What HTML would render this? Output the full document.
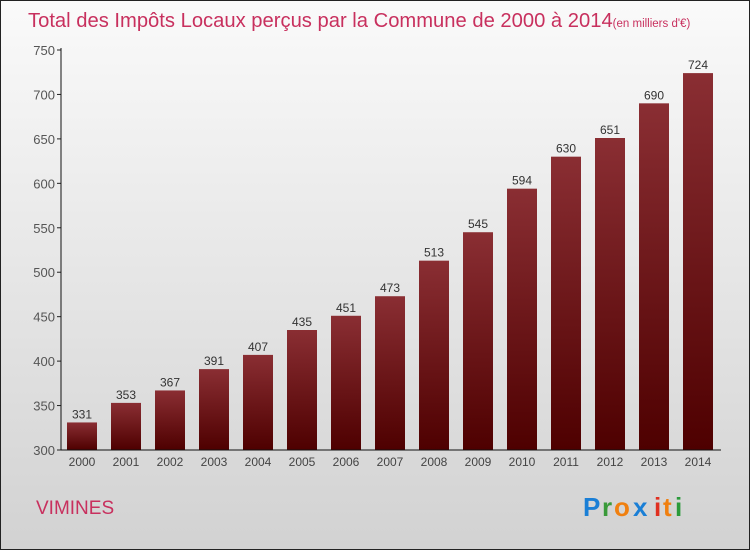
<!DOCTYPE html>
<html><head><meta charset="utf-8"><style>
html,body{margin:0;padding:0;width:750px;height:550px;overflow:hidden}
body{font-family:"Liberation Sans",sans-serif}
#frame{position:absolute;left:0;top:0;width:748px;height:548px;border:1px solid #222;background:linear-gradient(#fafafa,#d2d2d2)}
</style></head><body>
<div id="frame"></div>
<svg id="c" width="750" height="550" style="position:absolute;left:0;top:0">
<defs><linearGradient id="bg" x1="0" y1="0" x2="0" y2="1"><stop offset="0" stop-color="#8a2e33"/><stop offset="1" stop-color="#4e0000"/></linearGradient></defs>
<text x="28" y="27" font-size="20.2" fill="#c8305e">Total des Impôts Locaux perçus par la Commune de 2000 à 2014<tspan font-size="11.5">(en milliers d'€)</tspan></text>
<text x="36" y="514" font-size="19" fill="#c8305e">VIMINES</text>
<g font-size="26" font-weight="bold">
<text x="583" y="516" fill="#1a7fd6">P</text><text x="602" y="516" fill="#3a9a3a">r</text><text x="614" y="516" fill="#f08010">o</text><text x="633" y="516" fill="#1a7fd6">x</text><text x="654" y="516" fill="#e03020">i</text><text x="663" y="516" fill="#f08010">t</text><text x="675" y="516" fill="#2a9a3a">i</text>
</g>
<g id="plot"></g>
</svg>
<script>
const years=["2000","2001","2002","2003","2004","2005","2006","2007","2008","2009","2010","2011","2012","2013","2014"];
const values=[331,353,367,391,407,435,451,473,513,545,594,630,651,690,724];
const ticks=[300,350,400,450,500,550,600,650,700,750];
const y=v=>450-(v-300)*400/450;
const x=i=>82+i*44;
const g=document.getElementById('plot');
const NS='http://www.w3.org/2000/svg';
function mk(t,a){const e=document.createElementNS(NS,t);for(const k in a)e.setAttribute(k,a[k]);g.appendChild(e);return e;}
ticks.forEach(t=>{
 const l=mk('line',{x1:57,x2:61,y1:y(t),y2:y(t),stroke:'#222'});
 
 
 const tx=mk('text',{x:55,y:y(t)+5,'text-anchor':'end','font-size':13,fill:'#555'});tx.textContent=t;
 
 
});
values.forEach((v,i)=>{
 const r=mk('rect',{x:x(i)-15,y:y(v),width:30,height:450-y(v),fill:'url(#bg)'});
 
 
 const t=mk('text',{x:x(i),y:y(v)-4,'text-anchor':'middle','font-size':12,fill:'#333'});t.textContent=v;
 
 
 const yl=mk('text',{x:x(i),y:466,'text-anchor':'middle','font-size':12,fill:'#444'});yl.textContent=years[i];
 
 
});
const ax=mk('line',{x1:61,x2:61,y1:48,y2:450,stroke:'#111'});


const bx=mk('line',{x1:61,x2:721,y1:450,y2:450,stroke:'#111'});


</script>
</body></html>
